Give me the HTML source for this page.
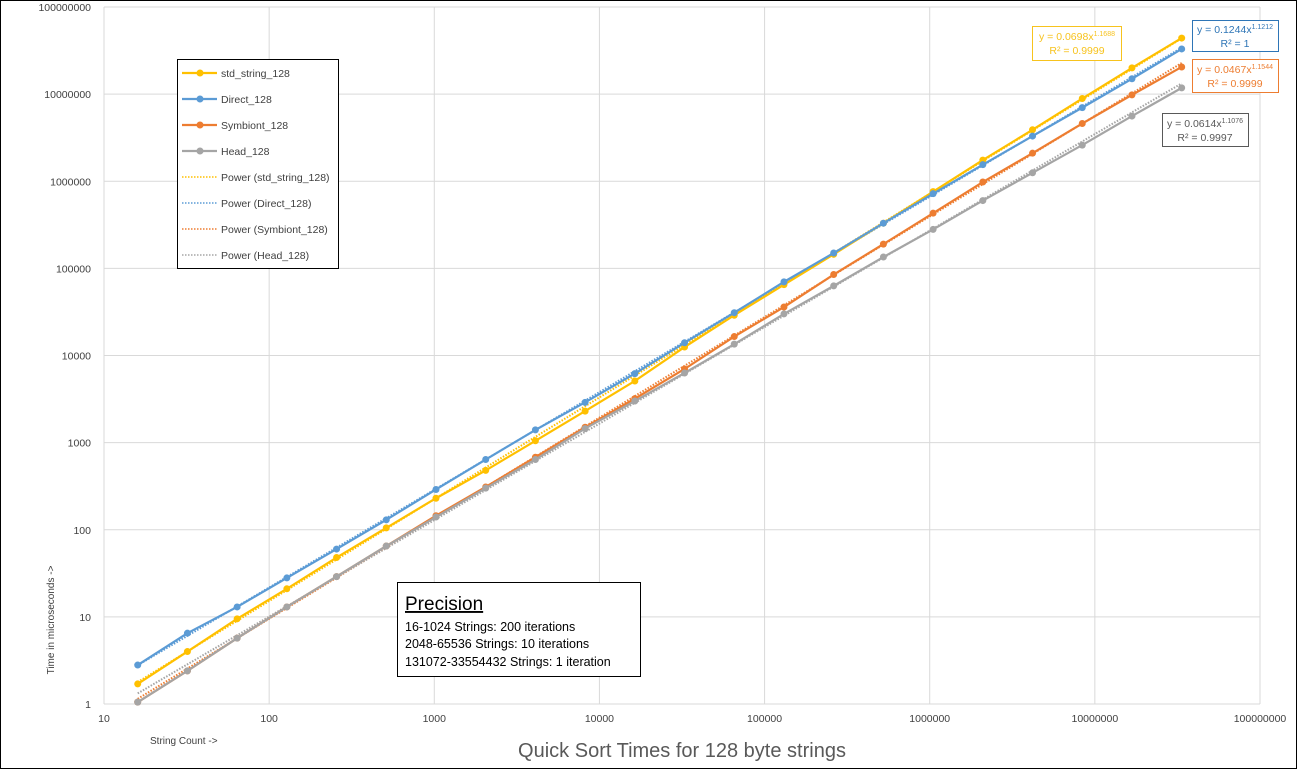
<!DOCTYPE html>
<html><head><meta charset="utf-8"><style>
body{margin:0;background:#fff}
svg{display:block;font-family:"Liberation Sans",sans-serif}
</style></head><body>
<svg id="c" width="1297" height="769">
<rect x="0.5" y="0.5" width="1296" height="768" fill="#fff" stroke="#000"/>
<g id="grid"></g><g id="trend"></g><g id="series"></g><g id="labels"></g>
<text x="682" y="757" font-size="20" fill="#595959" text-anchor="middle">Quick Sort Times for 128 byte strings</text>
<text x="150" y="744" font-size="10" fill="#404040">String Count -&gt;</text>
<text transform="translate(54,620) rotate(-90)" font-size="10" fill="#404040" text-anchor="middle">Time in microseconds -&gt;</text>
<g>
<rect x="177.5" y="59.5" width="161" height="209" fill="#fff" stroke="#000"/>
<g id="leg"></g>
</g>
<g>
<rect x="397.5" y="582.5" width="243" height="94" fill="#fff" stroke="#000"/>
<text x="405" y="610" font-size="19" fill="#000" text-decoration="underline">Precision</text>
<text x="405" y="631" font-size="12.5" fill="#000">16-1024 Strings: 200 iterations</text>
<text x="405" y="648" font-size="12.5" fill="#000">2048-65536  Strings: 10 iterations</text>
<text x="405" y="666" font-size="12.5" fill="#000">131072-33554432  Strings: 1 iteration</text>
</g>
<g>
<rect x="1032.5" y="26.5" width="89" height="34" fill="#fff" stroke="#F7C31E"/>
<text x="1077" y="40" font-size="10.5" fill="#F7C31E" text-anchor="middle">y = 0.0698x<tspan font-size="7" dy="-4">1.1688</tspan></text>
<text x="1077" y="54" font-size="10.5" fill="#F7C31E" text-anchor="middle">R² = 0.9999</text>
</g>
<g>
<rect x="1192.5" y="20.5" width="86" height="31" fill="#fff" stroke="#2E75B6"/>
<text x="1235" y="33" font-size="10.5" fill="#2E75B6" text-anchor="middle">y = 0.1244x<tspan font-size="7" dy="-4">1.1212</tspan></text>
<text x="1235" y="47" font-size="10.5" fill="#2E75B6" text-anchor="middle">R² = 1</text>
</g>
<g>
<rect x="1192.5" y="59.5" width="86" height="33" fill="#fff" stroke="#ED7D31"/>
<text x="1235" y="73" font-size="10.5" fill="#ED7D31" text-anchor="middle">y = 0.0467x<tspan font-size="7" dy="-4">1.1544</tspan></text>
<text x="1235" y="87" font-size="10.5" fill="#ED7D31" text-anchor="middle">R² = 0.9999</text>
</g>
<g>
<rect x="1162.5" y="113.5" width="86" height="33" fill="#fff" stroke="#595959"/>
<text x="1205" y="127" font-size="10.5" fill="#595959" text-anchor="middle">y = 0.0614x<tspan font-size="7" dy="-4">1.1076</tspan></text>
<text x="1205" y="141" font-size="10.5" fill="#595959" text-anchor="middle">R² = 0.9997</text>
</g>
</svg>
<script>
const xValues=[16,32,64,128,256,512,1024,2048,4096,8192,16384,32768,65536,131072,262144,524288,1048576,2097152,4194304,8388608,16777216,33554432];
const stdString=[1.7,4.0,9.5,21,48,105,230,480,1050,2300,5100,12500,29000,65000,145000,330000,760000,1750000,3900000,8900000,20000000,44000000];
const direct=[2.8,6.5,13,28,60,130,290,640,1400,2900,6200,14000,31000,70000,150000,330000,720000,1550000,3300000,7000000,15000000,33000000];
const symbiont=[1.05,2.4,5.7,13,29,65,145,310,680,1500,3200,7000,16500,36000,85000,190000,430000,980000,2100000,4600000,9800000,20500000];
const head=[1.05,2.4,5.7,13,29,65,140,300,640,1450,3000,6300,13500,30000,63000,135000,280000,600000,1250000,2600000,5600000,11800000];
const fitA=[0.0698,0.1244,0.0467,0.0614];
const fitB=[1.1688,1.1212,1.1544,1.1076];
const names=["std_string_128","Direct_128","Symbiont_128","Head_128"];
const xTicks=[10,100,1000,10000,100000,1000000,10000000,100000000];
const yTicks=[1,10,100,1000,10000,100000,1000000,10000000,100000000];
const colors=["#FFC000","#5B9BD5","#ED7D31","#A5A5A5"];
const NS="http://www.w3.org/2000/svg";
const X0=104,X1=1260,Y0=704,Y1=7;
const xs=v=>X0+(Math.log10(v)-1)/7*(X1-X0);
const ys=v=>Y0-Math.log10(v)/8*(Y0-Y1);
function mk(t,a,p){const e=document.createElementNS(NS,t);for(const k in a)e.setAttribute(k,a[k]);p.appendChild(e);return e;}
const grid=document.getElementById('grid'),lab=document.getElementById('labels');
xTicks.forEach(t=>{const x=xs(t);
const g=mk('line',{x1:x,x2:x,y1:Y1,y2:Y0,stroke:'#D9D9D9'},grid);


const l=mk('text',{x:x,y:Y0+18,'font-size':10.5,fill:'#404040','text-anchor':'middle'},lab);l.textContent=t;

});
yTicks.forEach(t=>{const y=ys(t);
const g=mk('line',{x1:X0,x2:X1,y1:y,y2:y,stroke:'#D9D9D9'},grid);


const l=mk('text',{x:X0-13,y:y+4,'font-size':10.5,fill:'#404040','text-anchor':'end'},lab);l.textContent=t;

});
const data=[stdString,direct,symbiont,head];
const tr=document.getElementById('trend'),se=document.getElementById('series');
data.forEach((d,i)=>{
 const x0=xValues[0],x1=xValues[xValues.length-1];
 const tl=mk('line',{x1:xs(x0),y1:ys(fitA[i]*Math.pow(x0,fitB[i])),x2:xs(x1),y2:ys(fitA[i]*Math.pow(x1,fitB[i])),stroke:colors[i],'stroke-width':2,'stroke-dasharray':'1.5 1.5'},tr);
 
 
});
[0,1,2,3].forEach(i=>{const d=data[i];
 const p=mk('polyline',{points:d.map((v,j)=>xs(xValues[j])+','+ys(v)).join(' '),fill:'none',stroke:colors[i],'stroke-width':2.2},se);
 
 
 d.forEach((v,j)=>{const c=mk('circle',{cx:xs(xValues[j]),cy:ys(v),r:3.5,fill:colors[i]},se);
 
 });
});
const leg=document.getElementById('leg');
const legNames=names.concat(names.map(n=>'Power ('+n+')'));
legNames.forEach((n,k)=>{const y=73+k*26,c=colors[k%4];
 if(k<4){mk('line',{x1:182,x2:217,y1:y,y2:y,stroke:c,'stroke-width':2.2},leg);mk('circle',{cx:200,cy:y,r:3.5,fill:c},leg);}
 else mk('line',{x1:182,x2:217,y1:y,y2:y,stroke:c,'stroke-width':1.5,'stroke-dasharray':'1.5 1.5'},leg);
 const t=mk('text',{x:221,y:y+4,'font-size':10.5,fill:'#404040'},leg);t.textContent=n;
 
 });
</script>
</body></html>
